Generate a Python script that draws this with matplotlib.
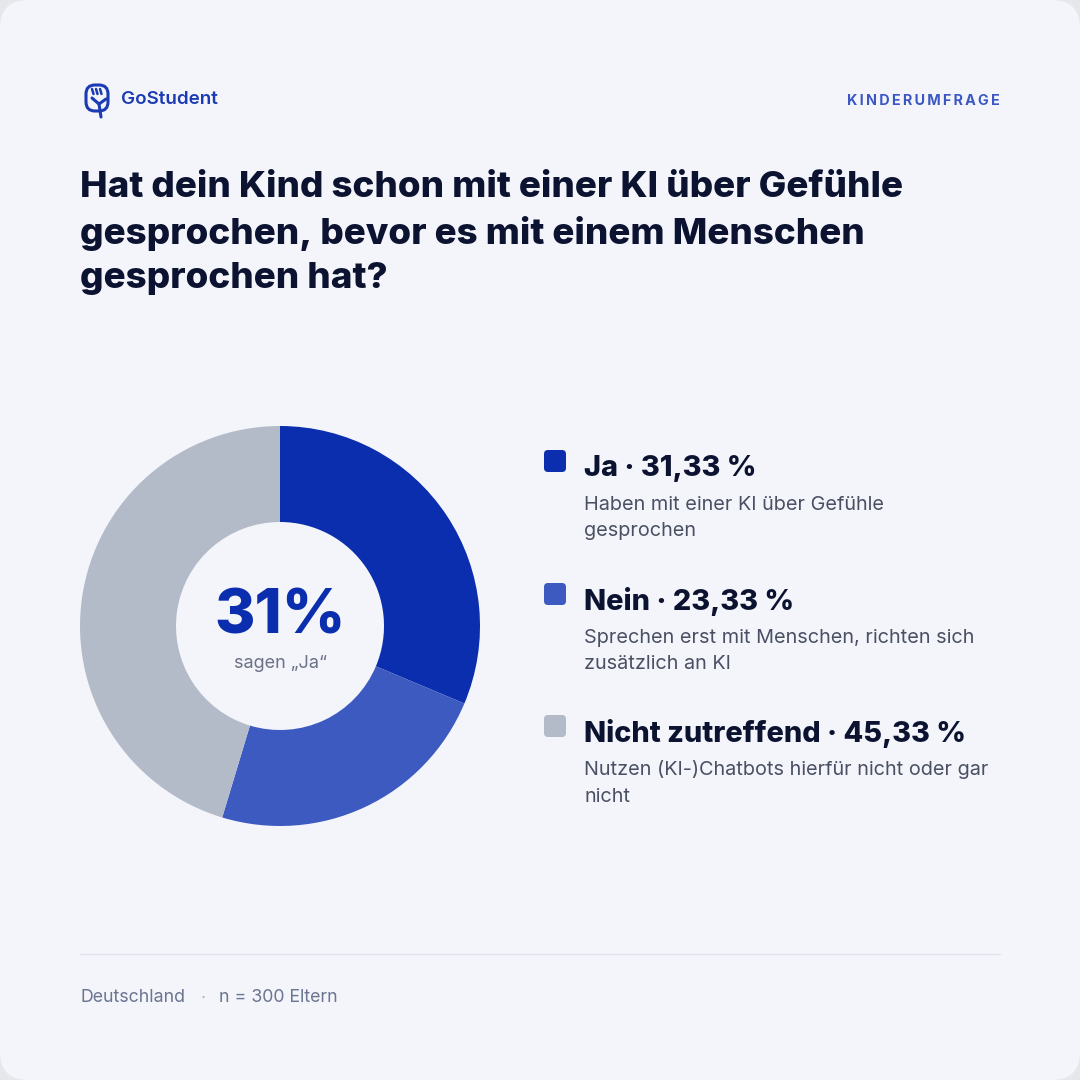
import matplotlib.pyplot as plt
from matplotlib.patches import FancyBboxPatch

# %% Data
labels = ['Ja', 'Nein', 'Nicht zutreffend']
shares = [31.33, 23.33, 45.33]
descs = ['Haben mit einer KI über Gefühle\ngesprochen',
         'Sprechen erst mit Menschen, richten sich\nzusätzlich an KI',
         'Nutzen (KI-)Chatbots hierfür nicht oder gar\nnicht']
colours = ['#0A2EAD', '#3C5ABF', '#B4BBC8']
title = 'Hat dein Kind schon mit einer KI über Gefühle\ngesprochen, bevor es mit einem Menschen\ngesprochen hat?'
headline = '31%'
headline_sub = 'sagen „Ja“'
footer = ['Deutschland', 'n = 300 Eltern']

BG = '#F4F5FB'
DARK = '#0B1330'
plt.rcParams['font.family'] = ['Inter', 'DejaVu Sans']

fig = plt.figure(figsize=(10.8, 10.8), dpi=100)
fig.patch.set_facecolor('#E6E7EB')

# canvas in pixel coordinates
ax = fig.add_axes([0, 0, 1, 1])
ax.set_xlim(0, 1080)
ax.set_ylim(1080, 0)
ax.axis('off')
ax.add_patch(FancyBboxPatch((0, 0), 1080, 1080, boxstyle='round,pad=0,rounding_size=28',
                            facecolor=BG, edgecolor='none'))

# %% Logo
lc = '#1A3BB3'
ax.add_patch(FancyBboxPatch((86, 85), 22, 26, boxstyle='round,pad=0,rounding_size=9',
                            facecolor='none', edgecolor=lc, linewidth=2.2))
ax.plot([92, 99, 106], [98, 104, 99], color=lc, lw=2.2, solid_capstyle='round')
ax.plot([99, 101], [104, 117], color=lc, lw=2.2, solid_capstyle='round')
for xx in [92, 96, 100]:
    ax.plot([xx, xx + 1.5], [89, 94], color=lc, lw=1.8, solid_capstyle='round')
ax.text(121, 100, 'GoStudent', fontsize=13.5, fontweight='semibold', color=lc, va='center', ha='left')

ax.text(1000, 101, '\u2009'.join('KINDERUMFRAGE'), fontsize=10.3, fontweight='bold',
        color='#3A57C4', va='center', ha='right')

# %% Title
ax.text(80, 233, title, fontsize=26.5, fontweight='heavy', color=DARK, va='center', ha='left',
        linespacing=1.42)

# %% Donut
ax_pie = fig.add_axes([80 / 1080, (1080 - 826) / 1080, 400 / 1080, 400 / 1080])
ax_pie.pie(shares, colors=colours, startangle=90, counterclock=False,
           wedgeprops=dict(width=0.48, edgecolor='none'))
ax_pie.set_xlim(-1, 1)
ax_pie.set_ylim(-1, 1)
ax_pie.set_aspect('equal')
ax_pie.text(0, 0.04, headline, fontsize=44.5, fontweight='heavy', color=colours[0],
            ha='center', va='center')
ax_pie.text(0, -0.19, headline_sub, fontsize=13, color='#6B7285', ha='center', va='center')

# %% Legend
ys = [468, 601, 733]
for lab, val, desc, col, y in zip(labels, shares, descs, colours, ys):
    ax.add_patch(FancyBboxPatch((544, y - 18), 22, 22, boxstyle='round,pad=0,rounding_size=4',
                                facecolor=col, edgecolor='none'))
    ax.text(584, y, f'{lab} · {val:.2f} %'.replace('.', ','), fontsize=20.8, fontweight='heavy',
            color=DARK, va='center', ha='left')
    ax.text(584, y + 50, desc, fontsize=14.3, color='#4A5063', va='center', ha='left',
            linespacing=1.6)

# %% Footer
ax.plot([80, 1000], [954, 954], color='#E1E5F0', lw=1)
ax.text(80, 998, footer[0], fontsize=12.8, color='#6B7490', va='center', ha='left')
ax.text(203, 998, '·', fontsize=12.8, color='#A9AFC0', va='center', ha='center')
ax.text(219, 998, footer[1], fontsize=12.8, color='#6B7490', va='center', ha='left')

fig.savefig('out.png', dpi=100, facecolor=fig.get_facecolor())
